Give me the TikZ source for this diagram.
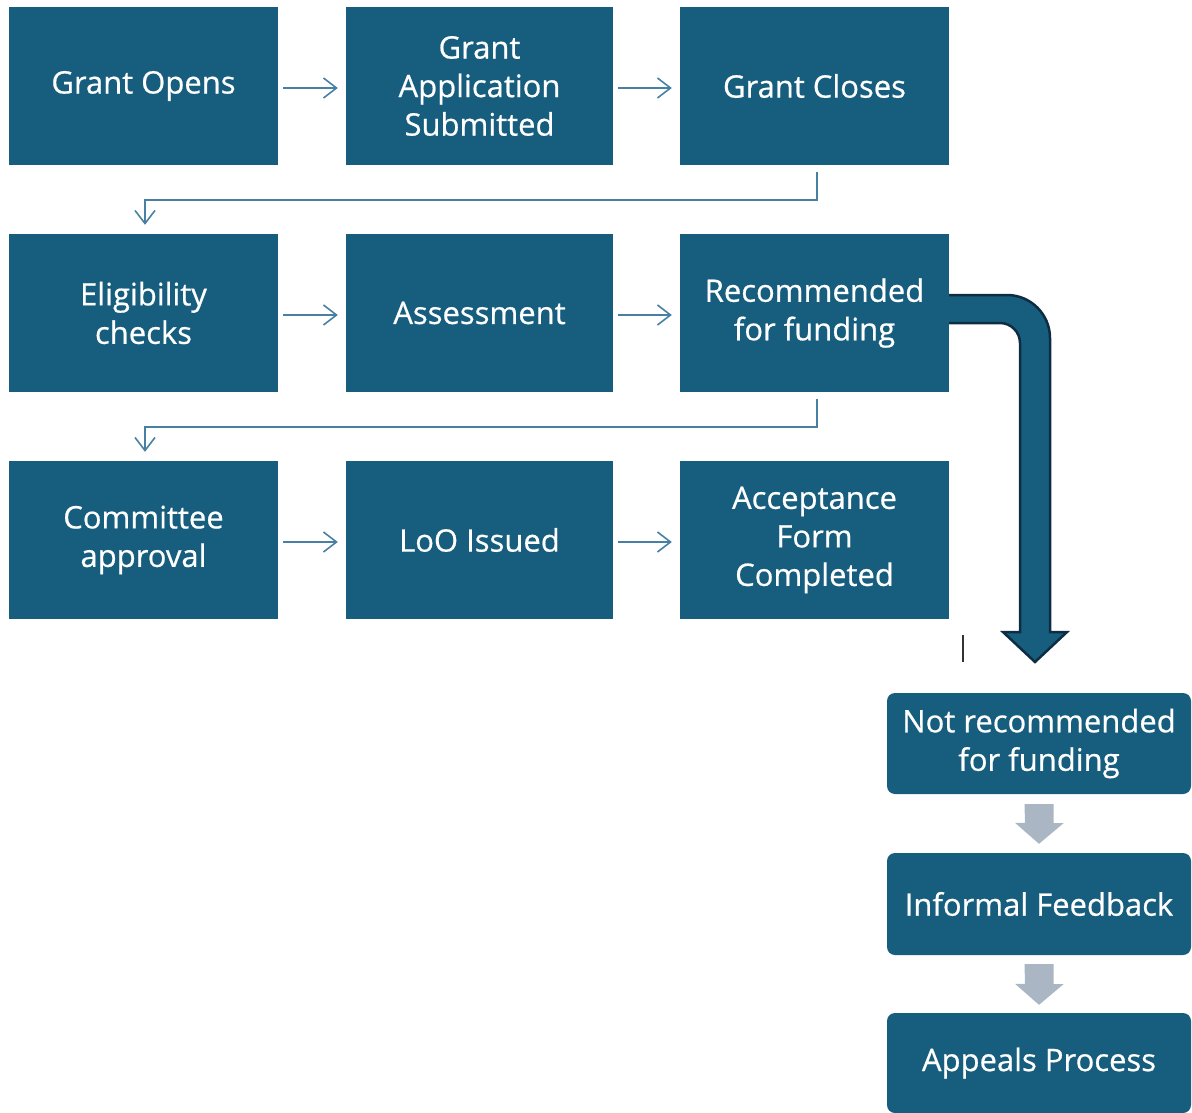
\documentclass[tikz,border=0pt]{standalone}
\usepackage{fontspec}
\setmainfont{Open Sans}
\newfontfamily\boxfont{Open Sans}[FakeBold=0.6]
\usetikzlibrary{arrows.meta}
\definecolor{boxblue}{RGB}{23,94,126}
\definecolor{connblue}{RGB}{72,128,163}
\definecolor{bigline}{RGB}{14,45,66}
\definecolor{graya}{RGB}{170,182,195}
\tikzset{
  stage/.style={fill=boxblue, text=white, minimum width=269pt, minimum height=158pt,
    align=center, inner sep=0pt, font=\boxfont\fontsize{31}{38.5}\selectfont},
  sidebox/.style={fill=boxblue, text=white, minimum width=304pt, rounded corners=8pt,
    align=center, inner sep=0pt, font=\boxfont\fontsize{31}{38.5}\selectfont},
  conn/.style={draw=connblue, line width=1.6pt, -{Straight Barb[length=13pt,width=20pt,line width=1.6pt]}},
  bigarrow/.style={fill=boxblue, draw=bigline, line width=2.5pt, line join=miter},
  grayarrow/.style={fill=graya, draw=none}
}
\begin{document}
\begin{tikzpicture}[x=1pt,y=-1pt]
\useasboundingbox (0,0) rectangle (1192,1113);
% big bent arrow
\path[bigarrow] (945,295) -- (1007,295) .. controls (1030.7,295) and (1050,314.3) .. (1050,338)
  -- (1050,632) -- (1067,632) -- (1035,662) -- (1003,632) -- (1020,632) -- (1020,343)
  .. controls (1020,332) and (1011,323) .. (1000,323) -- (945,323) -- cycle;
% stage boxes
\node[stage] (b1) at (143.5,86) {\raisebox{-2pt}{Grant Opens}};
\node[stage, minimum width=267pt] (b2) at (479.5,86) {Grant\\Application\\Submitted};
\node[stage] (b3) at (814.5,86) {Grant Closes};
\node[stage] (b4) at (143.5,313) {Eligibility\\checks};
\node[stage, minimum width=267pt] (b5) at (479.5,313) {Assessment};
\node[stage] (b6) at (814.5,313) {Recommended\\for funding};
\node[stage] (b7) at (143.5,540) {Committee\\approval};
\node[stage, minimum width=267pt] (b8) at (479.5,540) {LoO Issued};
\node[stage] (b9) at (814.5,540) {Acceptance\\Form\\Completed};
% side boxes
\node[sidebox, minimum height=101pt] (s1) at (1039,743.5) {Not recommended\\for funding};
\node[sidebox, minimum height=102pt] (s2) at (1039,904) {Informal Feedback};
\node[sidebox, minimum height=100pt] (s3) at (1039,1063) {Appeals Process};
% horizontal connectors
\foreach \a/\b in {b1/b2,b2/b3,b4/b5,b5/b6,b7/b8,b8/b9}{
  \draw[conn] ([xshift=5pt,yshift=-2pt]\a.east) -- ([xshift=-8pt,yshift=-2pt]\b.west);
}
% elbow connectors
\draw[conn] ([xshift=2.5pt,yshift=-7pt]b3.south) -- ++(0,28) -| ([xshift=1.5pt,yshift=9pt]b4.north);
\draw[conn] ([xshift=2.5pt,yshift=-7pt]b6.south) -- ++(0,28) -| ([xshift=1.5pt,yshift=9pt]b7.north);
% gray block arrows
\fill[grayarrow] ([yshift=-10pt]s1.south) ++(-14.5,0) -- ++(29,0) -- ++(0,19) -- ++(10,0)
  -- ([yshift=9pt]s2.north) -- ++(-24,-21) -- ++(10,0) -- cycle;
\fill[grayarrow] ([yshift=-9pt]s2.south) ++(-14.5,0) -- ++(29,0) -- ++(0,20) -- ++(10,0)
  -- ([yshift=8pt]s3.north) -- ++(-24,-21) -- ++(10,0) -- cycle;
% stray tick
\draw[line width=1.5pt, black!80] (963,635) -- (963,662);
\end{tikzpicture}
\end{document}
